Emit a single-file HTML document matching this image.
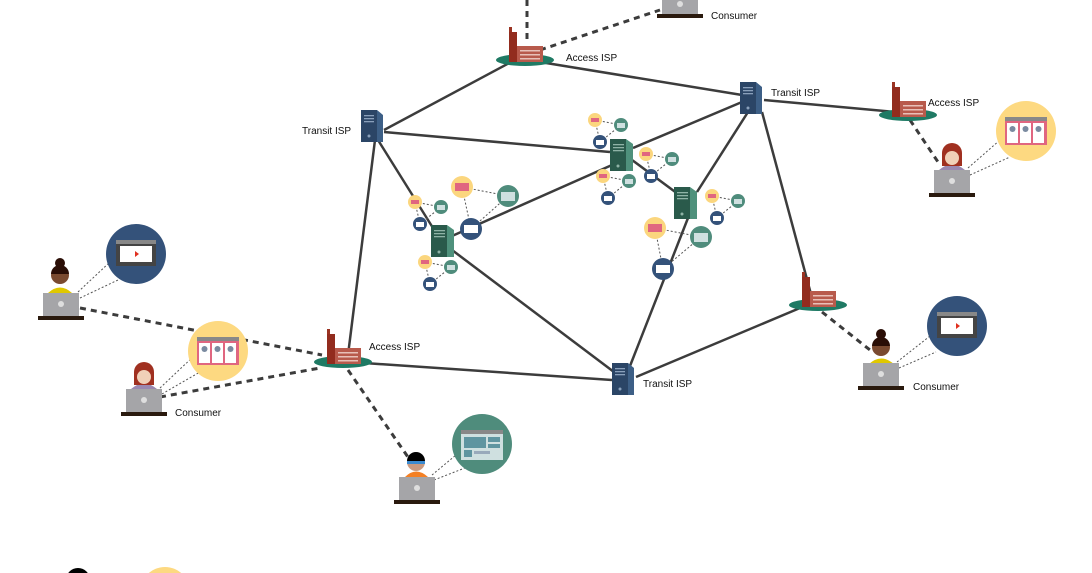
<!DOCTYPE html>
<html><head><meta charset="utf-8"><style>
html,body{margin:0;background:#fff;width:1092px;height:573px;overflow:hidden;}
svg{display:block;font-family:"Liberation Sans",sans-serif;}
</style></head><body>
<svg width="1092" height="573" viewBox="0 0 1092 573" xmlns="http://www.w3.org/2000/svg">
<defs>
<g id="isp">
 <ellipse cx="0" cy="0" rx="29" ry="6" fill="#1f7a64"/>
 <rect x="-16" y="-33" width="3" height="8" fill="#9a3322"/>
 <rect x="-16" y="-28" width="8" height="30" fill="#922c1e"/>
 <rect x="-8" y="-14" width="26" height="16" fill="#b85a4c"/>
 <rect x="-5" y="-10" width="20" height="1.5" fill="#e8c0b8"/>
 <rect x="-5" y="-6" width="20" height="1.5" fill="#e8c0b8"/>
 <rect x="-5" y="-2" width="20" height="1.5" fill="#e8c0b8"/>
</g>
<g id="tsrv">
 <path d="M-11,-16 L5,-16 L11,-11 L11,16 L-11,16 Z" fill="#3d5f86"/>
 <rect x="-11" y="-16" width="16" height="32" fill="#2b4566"/>
 <rect x="-8" y="-11" width="10" height="1.3" fill="#8aa0bb"/>
 <rect x="-8" y="-8" width="10" height="1.3" fill="#8aa0bb"/>
 <rect x="-8" y="-5" width="10" height="1.3" fill="#8aa0bb"/>
 <circle cx="-3" cy="10" r="1.5" fill="#8aa0bb"/>
</g>
<g id="gsrv">
 <path d="M-11,-16 L5,-16 L12,-11 L12,16 L-11,16 Z" fill="#4f917c"/>
 <rect x="-11" y="-16" width="16" height="32" fill="#2a5a4b"/>
 <rect x="-8" y="-11" width="11" height="1.3" fill="#8fb3a6"/>
 <rect x="-8" y="-8" width="11" height="1.3" fill="#8fb3a6"/>
 <rect x="-8" y="-5" width="11" height="1.3" fill="#8fb3a6"/>
 <circle cx="-3" cy="11" r="1.5" fill="#8fb3a6"/>
</g>
<g id="laptop">
 <rect x="-18" y="0" width="36" height="23" fill="#a5a5a8"/>
 <circle cx="0" cy="11" r="3" fill="#dedede"/>
 <rect x="-23" y="23" width="46" height="4" fill="#2a1a0e"/>
</g>
<g id="vid">
 <rect x="-20" y="-14" width="40" height="26" fill="#444"/>
 <rect x="-20" y="-14" width="40" height="4" fill="#888"/>
 <rect x="-16" y="-8" width="32" height="16" fill="#fff"/>
 <path d="M-1,-3 L3,0 L-1,3Z" fill="#e03020"/>
</g>
<g id="grid">
 <rect x="-21" y="-14" width="42" height="4" fill="#888"/>
 <rect x="-21" y="-10" width="42" height="24" fill="#e06680"/>
 <rect x="-19" y="-8" width="11" height="20" fill="#fff"/>
 <rect x="-6" y="-8" width="11" height="20" fill="#fff"/>
 <rect x="7" y="-8" width="11" height="20" fill="#fff"/>
 <circle cx="-13.5" cy="-2" r="3" fill="#7a8aa0"/>
 <circle cx="-0.5" cy="-2" r="3" fill="#7a8aa0"/>
 <circle cx="12.5" cy="-2" r="3" fill="#7a8aa0"/>
</g>
<g id="web">
 <rect x="-21" y="-14" width="42" height="30" fill="#cfe0e0"/>
 <rect x="-21" y="-14" width="42" height="4" fill="#888"/>
 <rect x="-18" y="-7" width="22" height="11" fill="#5f95a0"/>
 <rect x="6" y="-7" width="12" height="5" fill="#5f95a0"/>
 <rect x="6" y="0" width="12" height="4" fill="#5f95a0"/>
 <rect x="-18" y="6" width="8" height="7" fill="#5f95a0"/>
 <rect x="-8" y="7" width="16" height="3" fill="#9ab"/>
</g>
<g id="trio">
 <line x1="0" y1="0" x2="26" y2="5" stroke="#555" stroke-width="1" stroke-dasharray="2,2"/>
 <line x1="0" y1="0" x2="5" y2="22" stroke="#555" stroke-width="1" stroke-dasharray="2,2"/>
 <line x1="5" y1="22" x2="26" y2="5" stroke="#555" stroke-width="1" stroke-dasharray="2,2"/>
 <circle cx="0" cy="0" r="7" fill="#fbd67e"/><rect x="-4" y="-2" width="8" height="4" fill="#e06680"/>
 <circle cx="26" cy="5" r="7" fill="#4f8c7c"/><rect x="22" y="3" width="8" height="5" fill="#cfe0e0"/>
 <circle cx="5" cy="22" r="7" fill="#34527a"/><rect x="1" y="20" width="8" height="5" fill="#fff"/>
</g>
</defs>

<g stroke="#3c3c3c" stroke-width="2.5" fill="none">
 <line x1="513" y1="61" x2="384" y2="130"/>
 <line x1="540" y1="62" x2="742" y2="95"/>
 <line x1="384" y1="132" x2="610" y2="152"/>
 <line x1="375" y1="140" x2="348" y2="355"/>
 <line x1="378" y1="140" x2="433" y2="228"/>
 <line x1="764" y1="100" x2="895" y2="112"/>
 <line x1="742" y1="102" x2="633" y2="148"/>
 <line x1="762" y1="112" x2="812" y2="298"/>
 <line x1="748" y1="112" x2="697" y2="192"/>
 <line x1="688" y1="218" x2="630" y2="366"/>
 <line x1="632" y1="160" x2="678" y2="194"/>
 <line x1="612" y1="165" x2="452" y2="236"/>
 <line x1="452" y1="250" x2="614" y2="372"/>
 <line x1="350" y1="362" x2="612" y2="380"/>
 <line x1="800" y1="308" x2="636" y2="377"/>
</g>
<g stroke="#3c3c3c" stroke-width="3" stroke-dasharray="6,5" fill="none">
 <line x1="527" y1="0" x2="527" y2="42"/>
 <line x1="540" y1="50" x2="660" y2="10"/>
 <line x1="80" y1="308" x2="322" y2="355"/>
 <line x1="160" y1="397" x2="320" y2="368"/>
 <line x1="348" y1="370" x2="410" y2="460"/>
 <line x1="910" y1="120" x2="940" y2="165"/>
 <line x1="822" y1="312" x2="870" y2="350"/>
</g>
<g stroke="#555" stroke-width="1" stroke-dasharray="2,2" fill="none">
 <line x1="78" y1="292" x2="110" y2="262"/><line x1="80" y1="298" x2="118" y2="280"/>
 <line x1="160" y1="388" x2="195" y2="355"/><line x1="162" y1="394" x2="200" y2="372"/>
 <line x1="432" y1="475" x2="462" y2="450"/><line x1="434" y1="480" x2="470" y2="466"/>
 <line x1="968" y1="168" x2="1000" y2="140"/><line x1="970" y1="175" x2="1010" y2="157"/>
 <line x1="897" y1="362" x2="930" y2="336"/><line x1="899" y1="368" x2="936" y2="352"/>
 <line x1="462" y1="187" x2="508" y2="196"/><line x1="462" y1="187" x2="471" y2="229"/><line x1="471" y1="229" x2="508" y2="196"/>
 <line x1="655" y1="228" x2="701" y2="237"/><line x1="655" y1="228" x2="663" y2="269"/><line x1="663" y1="269" x2="701" y2="237"/>
</g>

<use href="#trio" x="415" y="202"/>
<use href="#trio" x="425" y="262"/>
<use href="#trio" x="595" y="120"/>
<use href="#trio" x="646" y="154"/>
<use href="#trio" x="603" y="176"/>
<use href="#trio" x="712" y="196"/>

<circle cx="462" cy="187" r="11" fill="#fbd67e"/><rect x="455" y="183" width="14" height="8" fill="#e06680"/>
<circle cx="508" cy="196" r="11" fill="#4f8c7c"/><rect x="501" y="192" width="14" height="9" fill="#cfe0e0"/>
<circle cx="471" cy="229" r="11" fill="#34527a"/><rect x="464" y="225" width="14" height="8" fill="#fff"/>
<circle cx="655" cy="228" r="11" fill="#fbd67e"/><rect x="648" y="224" width="14" height="8" fill="#e06680"/>
<circle cx="701" cy="237" r="11" fill="#4f8c7c"/><rect x="694" y="233" width="14" height="9" fill="#cfe0e0"/>
<circle cx="663" cy="269" r="11" fill="#34527a"/><rect x="656" y="265" width="14" height="8" fill="#fff"/>

<use href="#tsrv" x="372" y="126"/>
<use href="#tsrv" x="751" y="98"/>
<use href="#tsrv" x="623" y="379"/>
<use href="#gsrv" x="621" y="155"/>
<use href="#gsrv" x="685" y="203"/>
<use href="#gsrv" x="442" y="241"/>

<use href="#isp" x="525" y="60"/>
<use href="#isp" x="908" y="115"/>
<use href="#isp" x="818" y="305"/>
<use href="#isp" x="343" y="362"/>

<circle cx="136" cy="254" r="30" fill="#34527a"/><use href="#vid" x="136" y="254"/>
<circle cx="218" cy="351" r="30" fill="#fdd981"/><use href="#grid" x="218" y="351"/>
<circle cx="482" cy="444" r="30" fill="#4f8c7c"/><use href="#web" x="482" y="444"/>
<circle cx="1026" cy="131" r="30" fill="#fdd981"/><use href="#grid" x="1026" y="131"/>
<circle cx="957" cy="326" r="30" fill="#34527a"/><use href="#vid" x="957" y="326"/>
<circle cx="165" cy="592" r="25" fill="#fdd981"/>
<circle cx="78" cy="580" r="12" fill="#000"/>

<path d="M48,293 Q60,282 72,293Z" fill="#e0c800"/>
<circle cx="60" cy="275" r="9" fill="#7a4a30"/><path d="M51,274 A9,9 0 0 1 69,274Z" fill="#2a0e06"/><circle cx="60" cy="263" r="5" fill="#2a0e06"/>
<use href="#laptop" x="61" y="293"/>
<path d="M131,389 Q144,378 157,389Z" fill="#9a88b0"/>
<path d="M134,385 L134,372 A10,10 0 0 1 154,372 L154,385Z" fill="#a03020"/>
<circle cx="144" cy="377" r="7" fill="#f0d0b8"/>
<use href="#laptop" x="144" y="389"/>
<path d="M405,477 Q416,466 428,477Z" fill="#f48024"/>
<circle cx="416" cy="462" r="9" fill="#c99a80"/><path d="M407,461 A9,9 0 0 1 425,461Z" fill="#000"/>
<rect x="407" y="461" width="18" height="3" fill="#3a8ad0"/>
<use href="#laptop" x="417" y="477"/>
<path d="M939,170 Q952,159 965,170Z" fill="#9a88b0"/>
<path d="M942,166 L942,153 A10,10 0 0 1 962,153 L962,166Z" fill="#a03020"/>
<circle cx="952" cy="158" r="7" fill="#f0d0b8"/>
<use href="#laptop" x="952" y="170"/>
<path d="M869,364 Q881,353 894,364Z" fill="#e0c800"/>
<circle cx="881" cy="347" r="9" fill="#7a4a30"/><path d="M872,346 A9,9 0 0 1 890,346Z" fill="#2a0e06"/><circle cx="881" cy="334" r="5" fill="#2a0e06"/>
<use href="#laptop" x="881" y="363"/>
<rect x="662" y="0" width="36" height="14" fill="#a5a5a8"/><circle cx="680" cy="4" r="3" fill="#dedede"/>
<rect x="657" y="14" width="46" height="4" fill="#2a1a0e"/>

<g font-size="10" fill="#111">
 <text x="566" y="61">Access ISP</text>
 <text x="302" y="134">Transit ISP</text>
 <text x="771" y="96">Transit ISP</text>
 <text x="928" y="106">Access ISP</text>
 <text x="369" y="350">Access ISP</text>
 <text x="643" y="387">Transit ISP</text>
 <text x="711" y="19">Consumer</text>
 <text x="175" y="416">Consumer</text>
 <text x="913" y="390">Consumer</text>
</g>
</svg>
</body></html>
